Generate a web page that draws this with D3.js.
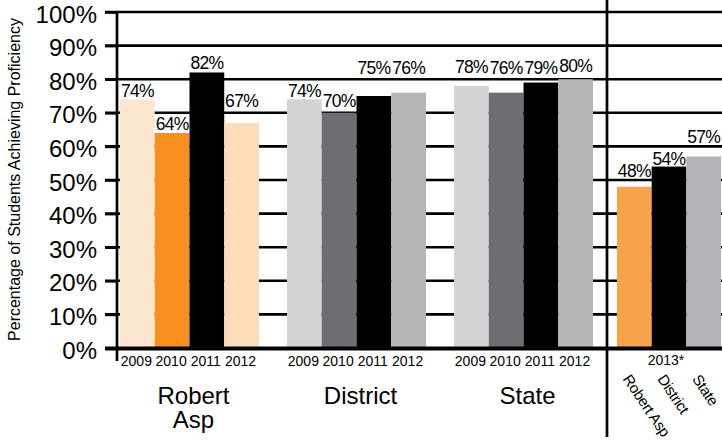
<!DOCTYPE html>
<html>
<head>
<meta charset="utf-8">
<script src="https://cdn.jsdelivr.net/npm/d3@7/dist/d3.min.js"></script>
<style>
  html, body { margin: 0; padding: 0; background: #fff; }
  svg { display: block; font-family: "Liberation Sans", Arial, Helvetica, sans-serif; }
</style>
</head>
<body>
<svg id="chart" width="722" height="442"></svg>
<script>
// ---- data ----
const groups = ["Robert Asp", "District", "State"];
const years = ["2009", "2010", "2011", "2012"];
const robertAspValues = [74, 64, 82, 67];
const districtValues = [74, 70, 75, 76];
const stateValues = [78, 76, 79, 80];
const entities2013 = ["Robert Asp", "District", "State"];
const values2013 = [48, 54, 57];
const yTickValues = [0, 10, 20, 30, 40, 50, 60, 70, 80, 90, 100];
const yAxisTitle = "Percentage of Students Achieving Proficiency";
const label2013 = "2013*";

// ---- colours ----
const groupColors = {
  "Robert Asp": ["#fde6d0", "#f7901e", "#000000", "#fddcb9"],
  "District":   ["#d1d3d4", "#6d6e71", "#000000", "#b4b6b8"],
  "State":      ["#d1d3d4", "#6d6e71", "#000000", "#b4b6b8"]
};
const colors2013 = ["#f8a24a", "#000000", "#b1b3b6"];

// extra lift (px) for value labels so neighbouring labels don't collide
const labelLift = {
  "Robert Asp": [2.5, 2.5, 3, 16],
  "District":   [2.5, 6, 22, 18.5],
  "State":      [13, 18.5, 8.5, 7.5]
};
const labelLift2013 = [10, 1.5, 13];

const seriesByGroup = {
  "Robert Asp": robertAspValues,
  "District": districtValues,
  "State": stateValues
};

const svg = d3.select("#chart");
const W = 722;

// ---- scales ----
const y = d3.scaleLinear().domain([0, 100]).range([348, 12]);
const xGroup = d3.scaleBand().domain(groups).range([120, 593]).paddingInner(0.168).paddingOuter(0);
const xYear = d3.scaleBand().domain(years).range([0, xGroup.bandwidth()]).padding(0);
const x2013 = d3.scaleBand().domain(entities2013).range([617, 721]).padding(0);

// ---- gridlines (behind bars) ----
svg.append("g").selectAll("line")
  .data(yTickValues.filter(v => v > 0))
  .join("line")
  .attr("x1", 105).attr("x2", W)
  .attr("y1", d => y(d)).attr("y2", d => y(d))
  .attr("stroke", "#000").attr("stroke-width", 2.6);

// ---- bars for 2009-2012 ----
const gGroups = svg.append("g").selectAll("g")
  .data(groups)
  .join("g")
  .attr("transform", d => `translate(${xGroup(d)},0)`);

gGroups.selectAll("rect")
  .data(g => years.map((yr, i) => ({ g, yr, i, v: seriesByGroup[g][i] })))
  .join("rect")
  .attr("x", d => xYear(d.yr))
  .attr("width", xYear.bandwidth())
  .attr("y", d => y(d.v))
  .attr("height", d => y(0) - y(d.v))
  .attr("fill", d => groupColors[d.g][d.i]);

gGroups.selectAll("text.val")
  .data(g => years.map((yr, i) => ({ g, yr, i, v: seriesByGroup[g][i] })))
  .join("text")
  .attr("class", "val")
  .attr("x", d => xYear(d.yr) + xYear.bandwidth() / 2)
  .attr("y", d => y(d.v) - labelLift[d.g][d.i])
  .attr("text-anchor", "middle")
  .attr("font-size", 17.5)
  .attr("letter-spacing", -0.7)
  .text(d => d.v + "%");

// year labels
gGroups.selectAll("text.yr")
  .data(years)
  .join("text")
  .attr("class", "yr")
  .attr("x", d => xYear(d) + xYear.bandwidth() / 2 - 1)
  .attr("y", 365.5)
  .attr("text-anchor", "middle")
  .attr("font-size", 14)
  .text(d => d);

// group labels (wrapped to the group width)
gGroups.append("text")
  .attr("class", "grp")
  .attr("text-anchor", "middle")
  .attr("font-size", 24)
  .each(function (d) {
    const words = d.split(" ");
    const lines = words.length > 1 ? words : [d];
    const t = d3.select(this);
    lines.forEach((w, k) => {
      t.append("tspan")
        .attr("x", xGroup.bandwidth() / 2 + 4)
        .attr("y", 403.5 + k * 24.5)
        .text(w);
    });
  });

// ---- 2013 bars ----
const g13 = svg.append("g");
g13.selectAll("rect")
  .data(entities2013.map((e, i) => ({ e, i, v: values2013[i] })))
  .join("rect")
  .attr("x", d => x2013(d.e))
  .attr("width", x2013.bandwidth())
  .attr("y", d => y(d.v))
  .attr("height", d => y(0) - y(d.v))
  .attr("fill", d => colors2013[d.i]);

g13.selectAll("text.val")
  .data(entities2013.map((e, i) => ({ e, i, v: values2013[i] })))
  .join("text")
  .attr("class", "val")
  .attr("x", d => x2013(d.e) + x2013.bandwidth() / 2)
  .attr("y", d => y(d.v) - labelLift2013[d.i])
  .attr("text-anchor", "middle")
  .attr("font-size", 17.5)
  .attr("letter-spacing", -0.7)
  .text(d => d.v + "%");

g13.append("text")
  .attr("x", 666)
  .attr("y", 365)
  .attr("text-anchor", "middle")
  .attr("font-size", 14)
  .text(label2013);

g13.selectAll("text.ent")
  .data(entities2013)
  .join("text")
  .attr("class", "ent")
  .attr("font-size", 15)
  .attr("letter-spacing", -0.3)
  .attr("transform", d => `translate(${x2013(d) + x2013.bandwidth() / 2 - 12},379) rotate(56)`)
  .text(d => d);

// ---- axes & frame lines ----
// y axis with outward ticks
const yAxis = d3.axisLeft(y).tickValues(yTickValues).tickSize(12).tickFormat(d => d + "%");
const gy = svg.append("g").attr("transform", "translate(117,0)").call(yAxis);
gy.select(".domain").remove();
gy.selectAll(".tick line").attr("stroke", "#000").attr("stroke-width", 2.6);
gy.selectAll(".tick text")
  .attr("font-family", "Liberation Sans, Arial, sans-serif")
  .attr("font-size", 24)
  .attr("fill", "#000")
  .attr("x", -20)
  .attr("dy", null)
  .attr("y", 10);

// vertical axis line
svg.append("line")
  .attr("x1", 117).attr("x2", 117)
  .attr("y1", y(100) - 1).attr("y2", 361)
  .attr("stroke", "#000").attr("stroke-width", 2.7);

// baseline
svg.append("line")
  .attr("x1", 105).attr("x2", W)
  .attr("y1", y(0) + 0.5).attr("y2", y(0) + 0.5)
  .attr("stroke", "#000").attr("stroke-width", 4);

// separator before 2013
svg.append("line")
  .attr("x1", 607).attr("x2", 607)
  .attr("y1", 0).attr("y2", 437)
  .attr("stroke", "#000").attr("stroke-width", 2.7);

// y axis title
svg.append("text")
  .attr("transform", "translate(20,179.5) rotate(-90)")
  .attr("text-anchor", "middle")
  .attr("font-size", 16)
  .text(yAxisTitle);
</script>
</body>
</html>
